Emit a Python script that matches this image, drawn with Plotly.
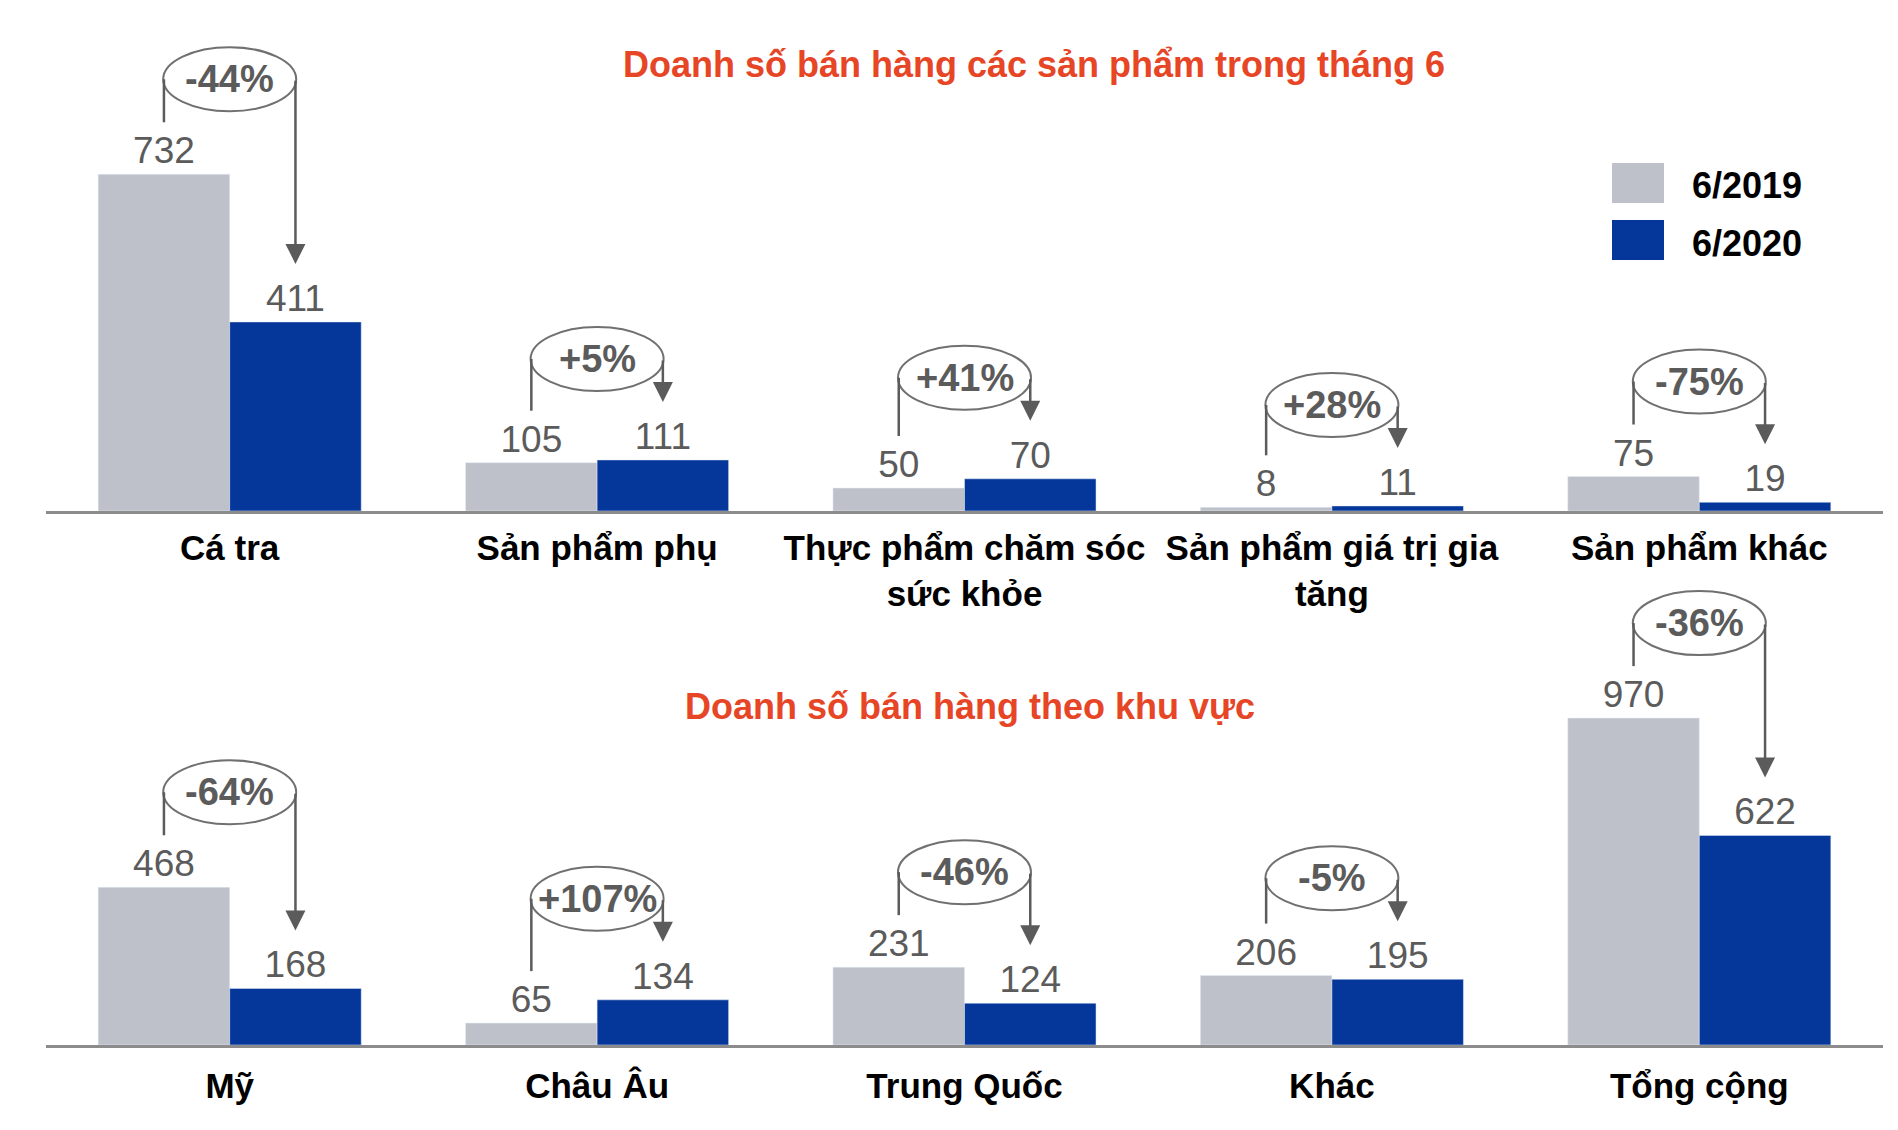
import plotly.graph_objects as go

# ---- data ----
products = ["Cá tra", "Sản phẩm phụ", "Thực phẩm chăm sóc<br>sức khỏe",
            "Sản phẩm giá trị gia<br>tăng", "Sản phẩm khác"]
products_2019 = [732, 105, 50, 8, 75]
products_2020 = [411, 111, 70, 11, 19]
products_change = ["-44%", "+5%", "+41%", "+28%", "-75%"]

regions = ["Mỹ", "Châu Âu", "Trung Quốc", "Khác", "Tổng cộng"]
regions_2019 = [468, 65, 231, 206, 970]
regions_2020 = [168, 134, 124, 195, 622]
regions_change = ["-64%", "+107%", "-46%", "-5%", "-36%"]

series_names = ["6/2019", "6/2020"]
title_top = "Doanh số bán hàng các sản phẩm trong tháng 6"
title_bottom = "Doanh số bán hàng theo khu vực"

# ---- style ----
W, H = 1882, 1114   # page body keeps an 8px margin round the plot
OFF = 11            # pixel positions below are measured on the full window
FONT = "Liberation Sans, Arial, sans-serif"
GRAY = "#BEC1CA"
BLUE = "#05379B"
INK = "#5B5B5B"
RED = "#E64526"
BAR_GAP = 0.284
HALF = (1 - BAR_GAP) / 4  # offset of each bar centre from the category centre


def px_x(v):
    return (v - OFF) / W


def px_y(v):
    return 1 - (v - OFF) / H


# panels: pixel rows of the baseline and the top of the plot area, px per unit
panels = [
    dict(base=514, top=OFF, ppu=0.46, xa="x", ya="y"),
    dict(base=1048, top=578, ppu=0.337, xa="x2", ya="y2"),
]

fig = go.Figure()
shapes, annos = [], []


def add_panel(p, cats, v19, v20, changes):
    fig.add_trace(go.Bar(x=cats, y=v19, name=series_names[0], marker_color=GRAY,
                         xaxis=p["xa"], yaxis=p["ya"], text=v19, textposition="outside",
                         cliponaxis=False, showlegend=False))
    fig.add_trace(go.Bar(x=cats, y=v20, name=series_names[1], marker_color=BLUE,
                         xaxis=p["xa"], yaxis=p["ya"], text=v20, textposition="outside",
                         cliponaxis=False, showlegend=False))

    def u(px):  # pixels -> data units
        return px / p["ppu"]

    for i, (a, b, ch) in enumerate(zip(v19, v20, changes)):
        xl, xr = i - HALF, i + HALF
        left_end = a + u(52)
        tip = b + u(58)
        ec = max(left_end, tip) + u(43)
        shapes.append(dict(type="circle", xref=p["xa"], yref=p["ya"],
                           x0=i - HALF - 0.002, x1=i + HALF + 0.002,
                           y0=ec - u(32), y1=ec + u(32),
                           line=dict(color="#707070", width=2), fillcolor="rgba(0,0,0,0)"))
        shapes.append(dict(type="line", xref=p["xa"], yref=p["ya"],
                           x0=xl, x1=xl, y0=left_end, y1=ec,
                           line=dict(color=INK, width=2.5)))
        annos.append(dict(xref=p["xa"], yref=p["ya"], axref=p["xa"], ayref=p["ya"],
                          x=xr, y=tip, ax=xr, ay=ec, text="", showarrow=True,
                          arrowhead=2, arrowsize=1.6, arrowwidth=2.5, arrowcolor=INK,
                          standoff=0, startstandoff=0))
        annos.append(dict(xref=p["xa"], yref=p["ya"], x=i, y=ec, text="<b>%s</b>" % ch,
                          showarrow=False, yanchor="middle",
                          font=dict(size=38, color=INK, family=FONT)))


add_panel(panels[0], products, products_2019, products_2020, products_change)
add_panel(panels[1], regions, regions_2019, regions_2020, regions_change)

# titles
annos.append(dict(xref="paper", yref="paper", x=px_x(1037), y=px_y(67), showarrow=False,
                  xanchor="center", yanchor="middle",
                  text="<b>%s</b>" % title_top, font=dict(size=36, color=RED, family=FONT)))
annos.append(dict(xref="paper", yref="paper", x=px_x(973), y=px_y(709), showarrow=False,
                  xanchor="center", yanchor="middle",
                  text="<b>%s</b>" % title_bottom, font=dict(size=36, color=RED, family=FONT)))

# legend drawn as big swatches
for k, (name, col) in enumerate(zip(series_names, [GRAY, BLUE])):
    y_mid = 186 + k * 57
    shapes.append(dict(type="rect", xref="paper", yref="paper",
                       x0=px_x(1615), x1=px_x(1667), y0=px_y(y_mid - 20), y1=px_y(y_mid + 20),
                       fillcolor=col, line=dict(width=0)))
    annos.append(dict(xref="paper", yref="paper", x=px_x(1693), y=px_y(y_mid + 3),
                      xanchor="left", yanchor="middle", showarrow=False,
                      text="<b>%s</b>" % name,
                      font=dict(size=36, color="black", family=FONT)))

xdom = [px_x(49), px_x(1886)]
axis_x = dict(domain=xdom, range=[-0.5, 4.5], showline=True, linecolor="#8C8C8C",
              linewidth=3, ticks="", showgrid=False, zeroline=False, fixedrange=True,
              tickfont=dict(size=35, color="black", family=FONT, weight="bold"))


def axis_y(p):
    return dict(domain=[px_y(p["base"]), min(1, px_y(p["top"]))],
                range=[0, (p["base"] - p["top"]) / p["ppu"]],
                visible=False, showgrid=False, zeroline=False, fixedrange=True)


fig.update_layout(
    width=W, height=H,
    margin=dict(l=0, r=0, t=0, b=0),
    plot_bgcolor="white", paper_bgcolor="white",
    barmode="group", bargap=BAR_GAP, bargroupgap=0,
    font=dict(family=FONT),
    xaxis=dict(axis_x, anchor="y", ticklabelstandoff=4),
    yaxis=dict(axis_y(panels[0]), anchor="x"),
    xaxis2=dict(axis_x, anchor="y2", ticklabelstandoff=8),
    yaxis2=dict(axis_y(panels[1]), anchor="x2"),
    shapes=shapes, annotations=annos,
    showlegend=False,
)
fig.update_traces(textfont=dict(size=37, color=INK, family=FONT))

fig.write_html("out.html")
